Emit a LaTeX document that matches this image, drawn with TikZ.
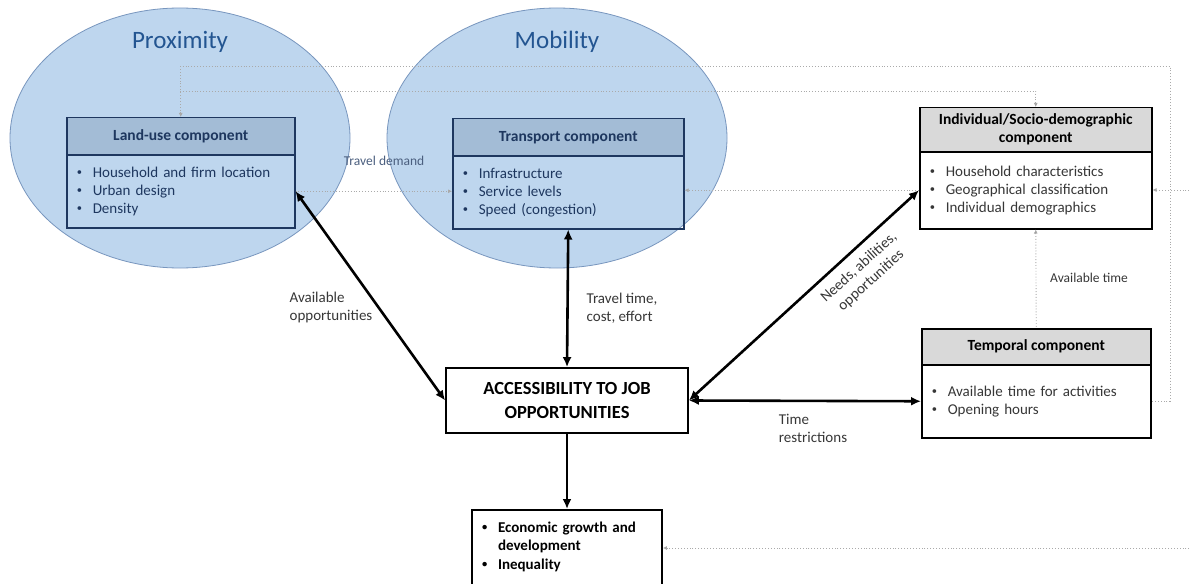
\documentclass[tikz,border=0pt]{standalone}
\usepackage{fontspec}
\setmainfont{Carlito}
\usepackage{tikz}
\usetikzlibrary{arrows.meta,shapes.geometric}

\definecolor{ellfill}{RGB}{190,214,238}
\definecolor{elldraw}{RGB}{120,150,190}
\definecolor{titleblue}{RGB}{35,85,145}
\definecolor{boxblue}{RGB}{30,55,95}
\definecolor{headblue}{RGB}{163,188,214}
\definecolor{headgrey}{RGB}{217,217,217}
\definecolor{dotgrey}{RGB}{170,170,170}
\definecolor{lblgrey}{RGB}{55,55,55}

\newcommand{\itm}[1]{\makebox[16pt][l]{\raisebox{0.1em}{\scalebox{0.7}{\textbullet}}}#1}

\begin{document}
\begin{tikzpicture}[x=1pt,y=1pt,yscale=-1,
  blob/.style={ellipse,draw=elldraw,line width=0.8pt,fill=ellfill,minimum width=340,minimum height=260},
  blobtitle/.style={text=titleblue,font=\fontsize{25}{30}\selectfont},
  bluehead/.style={draw=boxblue,line width=1.5pt,fill=headblue,text=boxblue,anchor=north west,font=\fontsize{15.5}{18}\selectfont\bfseries},
  bluebody/.style={draw=boxblue,line width=1.5pt,text=boxblue,anchor=north west,align=left,inner xsep=10,font=\fontsize{15}{18}\selectfont},
  greyhead/.style={draw=black,line width=1.5pt,fill=headgrey,anchor=north west,align=center,font=\fontsize{15.5}{18}\selectfont\bfseries},
  greybody/.style={draw=black,line width=1.5pt,fill=white,text=lblgrey,anchor=north west,align=left,inner xsep=10,font=\fontsize{15}{18}\selectfont},
  lbl/.style={text=lblgrey,font=\fontsize{15}{18}\selectfont},
  bigarrow/.style={line width=2.6pt,{Latex[length=10pt,width=9pt]}-{Latex[length=10pt,width=9pt]}},
  dotline/.style={dotted,dotgrey,line width=0.9pt,-{Latex[length=4pt,width=4pt,fill=black!70]}},
  ]
\path[use as bounding box,clip] (0,0) rectangle (1190,583);
\fill[white] (0,0) rectangle (1190,583);

% the two areas
\node[blob] (prox) at (180,138) {};
\node[blob] (mobil) at (557,138) {};
\node[blobtitle] (proxtitle) at (180,42) {Proximity};
\node[blobtitle] (mobiltitle) at (557,42) {Mobility};

% components
\node[bluehead,minimum width=228,minimum height=37] (landhead) at (66,117) {Land-use component};
\node[bluebody,text width=208,minimum height=73] (landbody) at (66,154) {\itm{Household and firm location}\\ \itm{Urban design}\\ \itm{Density}};

\node[bluehead,minimum width=231,minimum height=37] (transhead) at (452,118) {Transport component};
\node[bluebody,text width=211,minimum height=73] (transbody) at (452,155) {\itm{Infrastructure}\\ \itm{Service levels}\\ \itm{Speed (congestion)}};

\node[greyhead,minimum width=232,minimum height=44] (indhead) at (919,107) {Individual/Socio-demographic\\component};
\node[greybody,text width=212,minimum height=77] (indbody) at (919,151) {\itm{Household characteristics}\\ \itm{Geographical classification}\\ \itm{Individual demographics}};

\node[greyhead,minimum width=229,minimum height=36] (temphead) at (921,328) {Temporal component};
\node[greybody,text width=209,minimum height=73] (tempbody) at (921,364) {\itm{Available time for activities}\\ \itm{Opening hours}};

\node[draw=black,line width=1.8pt,fill=white,minimum width=242,minimum height=65,align=center,font=\fontsize{18.5}{24}\selectfont\bfseries] (access) at (567,400.5) {ACCESSIBILITY TO JOB\\OPPORTUNITIES};

\node[draw=black,line width=1.8pt,fill=white,anchor=north,text width=170,inner xsep=10,inner ysep=12,align=left,font=\fontsize{15}{18.5}\selectfont\bfseries] (econ) at (567,509) {\itm{Economic growth and}\\ \hspace*{16pt}development\\ \itm{Inequality}\\ \mbox{}};

% dotted feedback lines
\coordinate (dA) at (1170,66);
\coordinate (dB) at (180,91);
\coordinate (edgeE) at (1195,190);
\coordinate (edgeF) at (1195,548);
\draw[dotline,{Latex[length=4pt,width=4pt,fill=black!70]}-] (landhead.north) |- (dA) |- (tempbody.east);
\draw[dotline] (dB) -| (indhead.north);
\draw[dotline] (landbody.east) -- (landbody.east -| transbody.west);
\draw[dotline] (indbody.west) -- (indbody.west -| transbody.east);
\draw[dotline] (edgeE) -- (edgeE -| indbody.east);
\draw[dotline] (edgeF) -- (edgeF -| econ.east);
\draw[dotline,{Latex[length=4pt,width=4pt,fill=black!70]}-] (indbody.south) -- (temphead.north);

% main links
\draw[bigarrow] (landbody.east) -- (access.west);
\draw[bigarrow] (transbody.south) -- (access.north);
\draw[bigarrow] (access.east) -- (indbody.west);
\draw[bigarrow] (access.east) -- (tempbody.west);
\draw[line width=2.6pt,-{Latex[length=10pt,width=9pt]}] (access.south) -- (econ.north);

% link labels
\node[lbl,text=boxblue!80,font=\fontsize{13.5}{16}\selectfont] (traveldem) at (384,161) {Travel demand};
\node[lbl,align=left] (availopp) at (331,307) {Available\\opportunities};
\node[lbl,align=left] (traveltime) at (622,308) {Travel time,\\cost, effort};
\node[lbl,align=center,rotate=42] (needs) at (865,274) {Needs, abilities,\\opportunities};
\node[lbl,align=left] (timerestr) at (813,428) {Time\\restrictions};
\node[lbl,font=\fontsize{13.5}{16}\selectfont] (availtime) at (1089,278) {Available time};

\end{tikzpicture}
\end{document}
